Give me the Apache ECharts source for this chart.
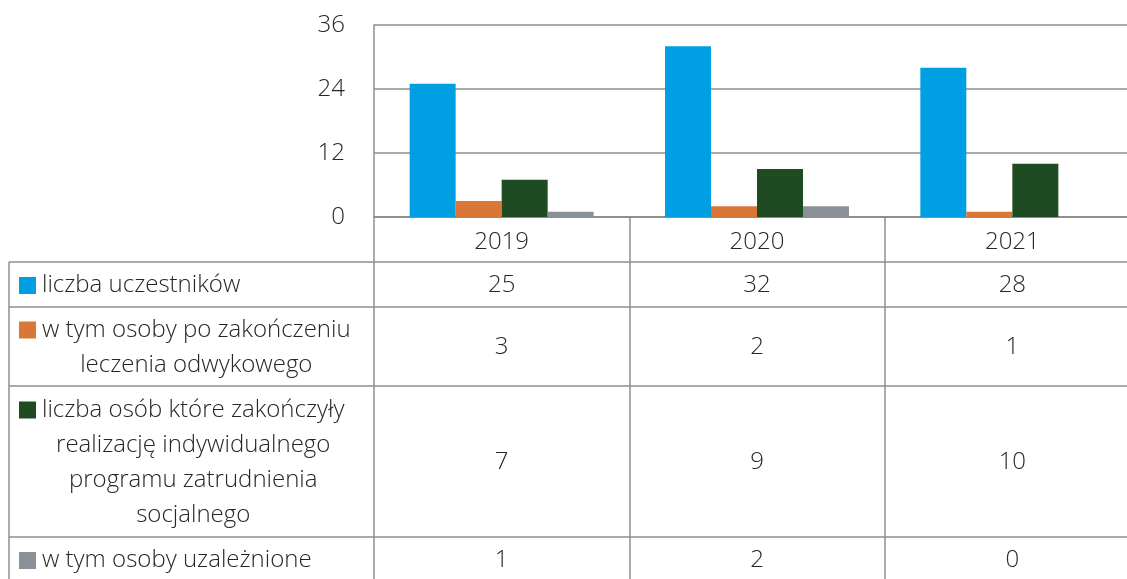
<!DOCTYPE html>
<html>
<head>
<meta charset="utf-8">
<script src="https://cdn.jsdelivr.net/npm/echarts@6/dist/echarts.min.js"></script>
<style>
  html, body { margin: 0; padding: 0; background: #ffffff; overflow: hidden; }
  /* the plot runs a little past the right edge of the window */
  #chart { width: 1140px; height: 579px; }
</style>
</head>
<body>
<div id="chart"></div>
<script>
// Years on the category axis
const categories = ['2019', '2020', '2021'];

// Row labels of the data table (one entry per line)
const labelUczestnicy = ['liczba uczestników'];
const labelPoLeczeniu = ['w tym osoby po zakończeniu', 'leczenia odwykowego'];
const labelZakonczyli = ['liczba osób które zakończyły', 'realizację indywidualnego', 'programu zatrudnienia', 'socjalnego'];
const labelUzaleznieni = ['w tym osoby uzależnione'];

// Values per year
const uczestnicy = [25, 32, 28];
const poLeczeniu = [3, 2, 1];
const zakonczyli = [7, 9, 10];
const uzaleznieni = [1, 2, 0];

// Value axis range
const yMin = 0;
const yMax = 36;
const yStep = 12;

const FONT = '"Open Sans", "Noto Sans", sans-serif';
const TEXT = '#262626';
const LINE = '#8e8e8e';
const colors = ['#009fe3', '#d97638', '#1f4b22', '#8a9097'];

const rows = [
  { lines: labelUczestnicy, values: uczestnicy, color: colors[0], top: 262, bottom: 307 },
  { lines: labelPoLeczeniu, values: poLeczeniu, color: colors[1], top: 307, bottom: 386 },
  { lines: labelZakonczyli, values: zakonczyli, color: colors[2], top: 386, bottom: 537 },
  { lines: labelUzaleznieni, values: uzaleznieni, color: colors[3], top: 537, bottom: 582 }
];

const chart = echarts.init(document.getElementById('chart'), null, { renderer: 'canvas' });

const series = rows.map((r) => ({
  name: r.lines.join(' '),
  type: 'bar',
  data: r.values,
  barWidth: 46,
  barGap: '0%',
  itemStyle: { color: r.color },
  silent: true,
  animation: false
}));

chart.setOption({
  animation: false,
  grid: { left: 374, top: 25, width: 766, height: 192, containLabel: false },
  xAxis: {
    type: 'category',
    data: categories,
    boundaryGap: true,
    axisLine: { show: true, lineStyle: { color: LINE, width: 2 } },
    axisTick: { show: true, interval: 0, alignWithLabel: false, length: 362, lineStyle: { color: LINE, width: 1.5 } },
    axisLabel: { show: true, interval: 0, margin: 13, color: TEXT, fontFamily: FONT, fontSize: 24, fontWeight: 300, lineHeight: 24 }
  },
  yAxis: {
    type: 'value',
    min: yMin,
    max: yMax,
    interval: yStep,
    axisLine: { show: true, lineStyle: { color: LINE, width: 1.5 } },
    axisTick: { show: false },
    splitLine: { show: true, lineStyle: { color: LINE, width: 1.5 } },
    axisLabel: { margin: 29, color: TEXT, fontFamily: FONT, fontSize: 24, fontWeight: 300 }
  },
  series: series
});

// Data table under the plot
const measureCtx = document.createElement('canvas').getContext('2d');
measureCtx.font = '300 24px ' + FONT;

const graphics = [];
// horizontal rules of the table
[262, 307, 386, 537].forEach(y => {
  graphics.push({
    type: 'line', silent: true,
    shape: { x1: 9, y1: y, x2: 1140, y2: y },
    style: { stroke: LINE, lineWidth: 1.5 }
  });
});
// left border
graphics.push({
  type: 'line', silent: true,
  shape: { x1: 9, y1: 262, x2: 9, y2: 579 },
  style: { stroke: LINE, lineWidth: 1.5 }
});

const LINE_H = 35;
rows.forEach(r => {
  const cy = (r.top + r.bottom) / 2;
  const n = r.lines.length;
  const firstY = cy - (n - 1) * LINE_H / 2;
  // legend key
  graphics.push({
    type: 'rect', silent: true,
    shape: { x: 19, y: firstY - 7.5, width: 17, height: 17 },
    style: { fill: r.color }
  });
  // label block, lines centred within the widest line
  const blockW = Math.max.apply(null, r.lines.map(t => measureCtx.measureText(t).width));
  r.lines.forEach((t, k) => {
    graphics.push({
      type: 'text', silent: true,
      x: 42 + blockW / 2, y: firstY + k * LINE_H + 1,
      style: { text: t, fill: TEXT, font: '300 24px ' + FONT, align: 'center', verticalAlign: 'middle' }
    });
  });
  // values per year
  r.values.forEach((v, j) => {
    const x = chart.convertToPixel({ xAxisIndex: 0 }, categories[j]);
    graphics.push({
      type: 'text', silent: true,
      x: x, y: cy + 1,
      style: { text: String(v), fill: TEXT, font: '300 24px ' + FONT, align: 'center', verticalAlign: 'middle' }
    });
  });
});

chart.setOption({ graphic: graphics });
</script>
</body>
</html>
